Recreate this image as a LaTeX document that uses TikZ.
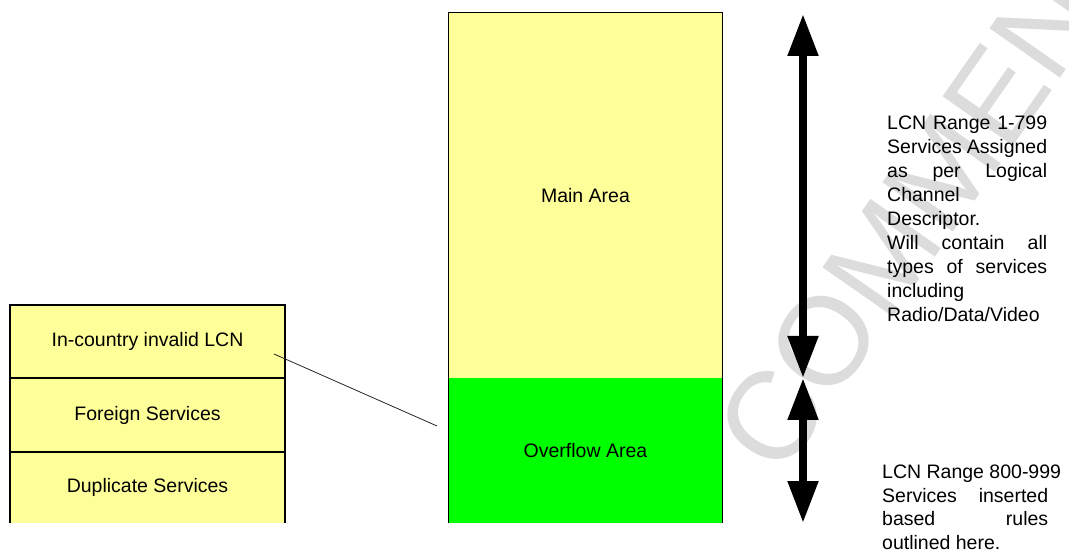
\documentclass[tikz,border=0pt]{standalone}
\usepackage{fontspec}
\setmainfont{Liberation Sans}
\usetikzlibrary{arrows.meta}
\definecolor{paleyellow}{HTML}{FFFF99}
\definecolor{brightgreen}{HTML}{00FF00}
\definecolor{wmgray}{HTML}{DCDCDC}
\newlength{\colw}
\newcommand{\jline}[1]{\makebox[\colw][s]{#1}\par}
\newcommand{\lline}[1]{\makebox[\colw][l]{#1}\par}
\tikzset{
  txt/.style={font=\fontsize{19.5}{23.4}\selectfont},
  stackbox/.style={rectangle, fill=paleyellow, inner sep=0pt, minimum width=275pt, txt},
  areabox/.style={rectangle, inner sep=0pt, minimum width=273pt, txt},
  stackline/.style={line width=1.6pt},
  arealine/.style={line width=1pt},
  bigarrow/.style={line width=8pt, {Triangle[length=42pt,width=29pt]}-{Triangle[length=42pt,width=29pt]}},
  note/.style={anchor=base west, inner sep=0pt, txt},
  wmark/.style={text=wmgray, font=\fontsize{125}{125}\selectfont, rotate=55, inner sep=0pt}
}
\begin{document}
\begin{tikzpicture}[x=1pt,y=-1pt]
\useasboundingbox (0,0) rectangle (1069,553);
\begin{scope}
\clip (0,0) rectangle (1069,553);
\node[wmark] (wm) at (930,190) {COMMENT};
\end{scope}
% left stack
\node[stackbox, minimum height=73pt] (b1) at (147.5,341.5) {In-country invalid LCN};
\node[stackbox, minimum height=74pt] (b2) at (147.5,415) {Foreign Services};
\node[stackbox, minimum height=71pt] (b3) at (147.5,487.5) {Duplicate Services};
\draw[stackline] (b3.south west) -- (b1.north west) -- (b1.north east) -- (b3.south east);
\draw[stackline] (b1.south west) -- (b1.south east);
\draw[stackline] (b2.south west) -- (b2.south east);
% main column
\node[areabox, fill=paleyellow, minimum height=365pt] (main) at (585.5,195.5) {Main Area};
\node[areabox, fill=brightgreen, minimum height=145pt] (over) at (585.5,450.5) {Overflow Area};
\draw[arealine] (over.south west) -- (main.north west) -- (main.north east) -- (over.south east);
% connector
\coordinate (c1) at (274,354);
\coordinate (c2) at (437,426);
\draw[line width=0.8pt, black!85] (c1) -- (c2);
% arrows
\coordinate (a1t) at (803,14);
\coordinate (a1b) at (803,378);
\coordinate (a2t) at (803,378);
\coordinate (a2b) at (803,523);
\draw[bigarrow] (a1t) -- (a1b);
\draw[bigarrow] (a2t) -- (a2b);
% notes
\node[note] (n1) at (887,129.3) {\setlength{\colw}{160pt}\begin{minipage}[t]{160pt}\setlength{\parindent}{0pt}\fontsize{19.5}{24}\selectfont
\jline{LCN Range 1-799}
\jline{Services Assigned}
\jline{as per Logical}
\lline{Channel}
\lline{Descriptor.}
\jline{Will contain all}
\jline{types of services}
\lline{including}
\lline{Radio/Data/Video}
\end{minipage}};
\node[note] (n2) at (882,478.7) {\setlength{\colw}{166pt}\begin{minipage}[t]{166pt}\setlength{\parindent}{0pt}\fontsize{19.5}{23.5}\selectfont
\lline{LCN Range 800-999}
\jline{Services inserted}
\jline{based rules}
\lline{outlined here.}
\end{minipage}};
\end{tikzpicture}
\end{document}
